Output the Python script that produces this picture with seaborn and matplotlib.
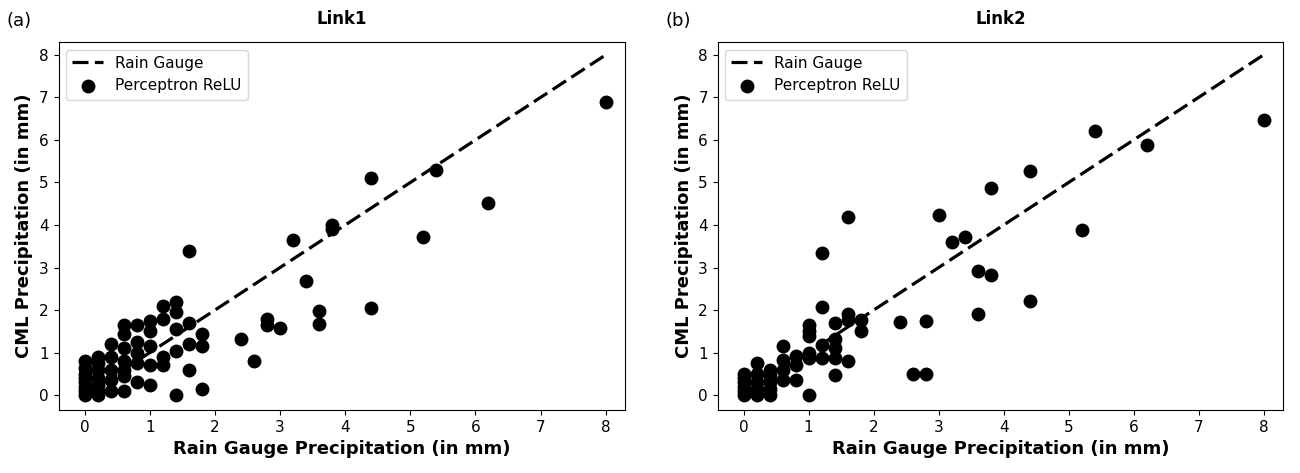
import pandas as pd
import matplotlib
matplotlib.use("Agg")
import matplotlib.pyplot as plt
import seaborn as sns

# Link1: rain gauge value and perceptron estimate per sample
link1_gauge = [0, 0, 0, 0, 0, 0, 0, 0,
               0.2, 0.2, 0.2, 0.2, 0.2, 0.2, 0.2,
               0.4, 0.4, 0.4, 0.4, 0.4,
               0.6, 0.6, 0.6, 0.6, 0.6, 0.6, 0.6,
               0.8, 0.8, 0.8, 0.8, 0.8,
               1.0, 1.0, 1.0, 1.0, 1.0,
               1.2, 1.2, 1.2, 1.2,
               1.4, 1.4, 1.4, 1.4, 1.4,
               1.6, 1.6, 1.6, 1.6,
               1.8, 1.8, 1.8,
               2.4, 2.6, 2.8, 2.8, 3.0, 3.2, 3.4, 3.6, 3.6,
               3.8, 3.8, 4.4, 4.4, 5.2, 5.4, 6.2, 8.0]
link1_pred = [0, 0.1, 0.2, 0.3, 0.4, 0.5, 0.65, 0.8,
              0, 0.1, 0.25, 0.4, 0.6, 0.75, 0.9,
              0.1, 0.35, 0.6, 0.9, 1.2,
              0.1, 0.45, 0.6, 0.8, 1.1, 1.45, 1.65,
              0.3, 0.75, 1.0, 1.25, 1.65,
              0.25, 0.7, 1.15, 1.5, 1.75,
              0.7, 0.9, 1.8, 2.1,
              0.0, 1.05, 1.55, 1.95, 2.2,
              0.6, 1.2, 1.7, 3.4,
              0.15, 1.15, 1.45,
              1.33, 0.81, 1.64, 1.8, 1.57, 3.65, 2.69, 1.68, 1.99,
              3.9, 4.0, 2.06, 5.1, 3.72, 5.3, 4.51, 6.9]

# Link2
link2_gauge = [0, 0, 0, 0, 0, 0,
               0.2, 0.2, 0.2, 0.2, 0.2,
               0.4, 0.4, 0.4, 0.4, 0.4,
               0.6, 0.6, 0.6, 0.6,
               0.8, 0.8, 0.8,
               1.0, 1.0, 1.0, 1.0, 1.0, 1.0,
               1.2, 1.2, 1.2, 1.2,
               1.4, 1.4, 1.4, 1.4, 1.4,
               1.6, 1.6, 1.6, 1.6,
               1.8, 1.8,
               2.4, 2.6, 2.8, 2.8, 3.0, 3.2, 3.4, 3.6, 3.6,
               3.8, 3.8, 4.4, 4.4, 5.2, 5.4, 6.2, 8.0]
link2_pred = [0, 0.1, 0.2, 0.3, 0.4, 0.5,
              0, 0.15, 0.3, 0.5, 0.75,
              0, 0.15, 0.3, 0.45, 0.6,
              0.35, 0.6, 0.82, 1.15,
              0.35, 0.7, 0.93,
              0.0, 0.87, 1.0, 1.4, 1.5, 1.65,
              0.87, 1.17, 2.08, 3.35,
              0.47, 0.87, 1.1, 1.33, 1.7,
              0.8, 1.76, 1.92, 4.2,
              1.5, 1.76,
              1.73, 0.51, 0.51, 1.75, 4.23, 3.6, 3.72, 1.92, 2.92,
              2.83, 4.87, 2.22, 5.27, 3.88, 6.22, 5.89, 6.48]

links = [("Link1", "(a)", link1_gauge, link1_pred),
         ("Link2", "(b)", link2_gauge, link2_pred)]
ticks = list(range(0, 9))

sns.set_style("ticks", {"axes.edgecolor": "black", "xtick.color": "black",
                        "ytick.color": "black", "text.color": "black",
                        "axes.labelcolor": "black"})
plt.rcParams['font.family'] = ['DejaVu Sans']

fig = plt.figure(figsize=(13, 4.73), dpi=100)
positions = [[0.045, 0.133, 0.436, 0.778], [0.552, 0.133, 0.435, 0.778]]

for (name, tag, gauge, pred), pos in zip(links, positions):
    ax = fig.add_axes(pos)
    df = pd.DataFrame({"gauge": gauge, "pred": pred})

    # Reference line: gauge against itself
    sns.lineplot(data=df, x="gauge", y="gauge", color="black", dashes=(5, 2),
                 linewidth=2.3, ax=ax, label="Rain Gauge", errorbar=None)
    sns.scatterplot(data=df, x="gauge", y="pred", color="black", s=100,
                    edgecolor="black", linewidth=0, ax=ax, label="Perceptron ReLU")

    ax.set_xticks(ticks)
    ax.set_yticks(ticks)
    ax.set_xlim(-0.4, 8.3)
    ax.set_ylim(-0.35, 8.3)
    ax.tick_params(labelsize=11)
    ax.set_title(name, fontweight="bold", fontsize=12, pad=13)
    ax.set_xlabel("Rain Gauge Precipitation (in mm)", fontweight="bold", fontsize=13)
    ax.set_ylabel("CML Precipitation (in mm)", fontweight="bold", fontsize=13)
    ax.legend(loc="upper left", fontsize=11)
    fig.text(pos[0] - 0.04, 0.945, tag, fontsize=13)

plt.savefig("out.png")
